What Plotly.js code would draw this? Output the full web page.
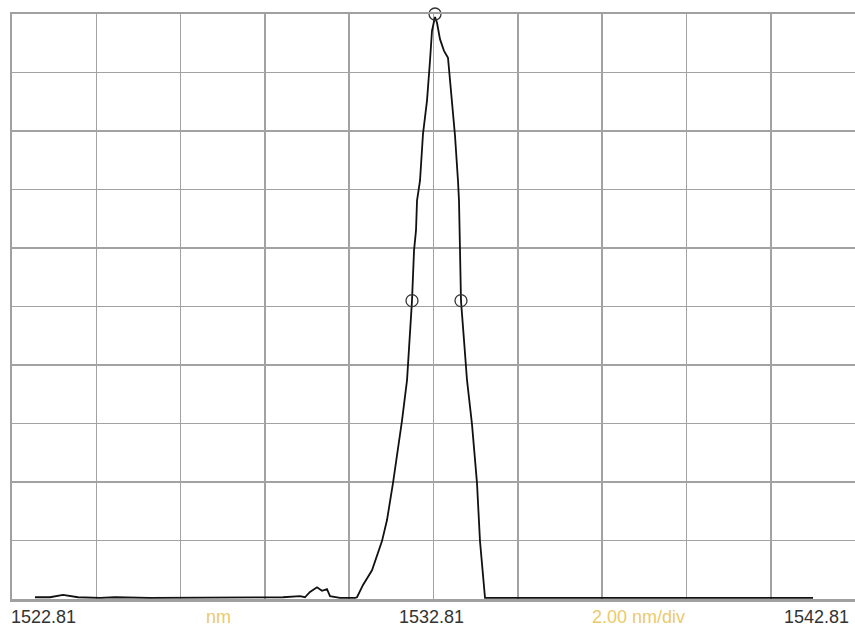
<!DOCTYPE html>
<html>
<head>
<meta charset="utf-8">
<script src="https://cdn.plot.ly/plotly-3.0.1.min.js"></script>
<style>
  html, body { margin: 0; padding: 0; background: #ffffff; }
  #chart { width: 855px; height: 632px; }
</style>
</head>
<body>
<div id="chart"></div>
<script>
// Spectrum trace: wavelength (nm) and linear level (divisions, 0..10)
const wavelength = [
  1523.356, 1523.712, 1524.020, 1524.376, 1524.898, 1525.254, 1526.084, 1527.270,
  1528.575, 1528.931, 1529.239, 1529.643, 1529.761, 1529.880, 1530.046, 1530.165,
  1530.283, 1530.355, 1530.592, 1530.948, 1530.995, 1531.138, 1531.351, 1531.588,
  1531.707, 1531.849, 1532.063, 1532.182, 1532.253, 1532.300, 1532.348, 1532.395,
  1532.419, 1532.490, 1532.561, 1532.656, 1532.727, 1532.774, 1532.846, 1532.893,
  1532.964, 1533.059, 1533.154, 1533.202, 1533.249, 1533.320, 1533.391, 1533.415,
  1533.439, 1533.462, 1533.534, 1533.605, 1533.723, 1533.842, 1533.913, 1533.984,
  1534.032, 1535.574, 1537.947, 1540.319, 1541.814
];
const level = [
  0.03, 0.03, 0.07, 0.03, 0.02, 0.03, 0.02, 0.02,
  0.02, 0.03, 0.03, 0.05, 0.03, 0.12, 0.20, 0.14,
  0.17, 0.05, 0.02, 0.02, 0.03, 0.24, 0.49, 0.99,
  1.35, 1.98, 3.05, 3.74, 4.59, 5.10, 5.96, 6.30,
  6.81, 7.15, 7.95, 8.52, 9.20, 9.71, 9.95, 9.85,
  9.57, 9.37, 9.25, 8.86, 8.52, 7.92, 7.15, 6.81,
  5.96, 5.10, 4.42, 3.74, 2.99, 1.98, 0.99, 0.41,
  0.02, 0.02, 0.02, 0.02, 0.02
];

// Marker circles: peak and half-maximum points
const markWavelength = [1532.846, 1532.300, 1533.462];
const markLevel = [10.0, 5.10, 5.10];

// Axis labels
const startLabel = "1522.81";
const centerLabel = "1532.81";
const stopLabel = "1542.81";
const unitLabel = "nm";
const spanLabel = "2.00 nm/div";
const xStart = 1522.81, xCenter = 1532.81, xStop = 1542.81;

const traces = [
  {
    x: wavelength, y: level, type: 'scatter', mode: 'lines',
    line: { color: '#111111', width: 1.8 },
    hoverinfo: 'skip', showlegend: false
  },
  {
    x: markWavelength, y: markLevel, type: 'scatter', mode: 'markers',
    marker: { symbol: 'circle-open', size: 12, color: '#333333', line: { width: 1.3, color: '#333333' } },
    cliponaxis: false, hoverinfo: 'skip', showlegend: false
  }
];

const labelFont = { family: 'Liberation Sans, Arial, sans-serif', size: 18, color: '#333333' };
const yellowFont = { family: 'Liberation Sans, Arial, sans-serif', size: 18, color: '#ecc96a' };

const layout = {
  width: 855, height: 632,
  margin: { l: 12, r: 0, t: 14, b: 33 },
  paper_bgcolor: '#ffffff', plot_bgcolor: '#ffffff',
  xaxis: {
    range: [xStart, xStop], dtick: 2, tick0: xStart,
    showgrid: true, gridcolor: '#a2a2a2', gridwidth: 1.6,
    showticklabels: false, ticks: '', zeroline: false,
    showline: true, mirror: true, linecolor: '#a0a0a0', linewidth: 2.5
  },
  yaxis: {
    range: [0, 10], dtick: 1, tick0: 0,
    showgrid: true, gridcolor: '#a2a2a2', gridwidth: 1.6,
    showticklabels: false, ticks: '', zeroline: false,
    showline: true, mirror: false, linecolor: '#a0a0a0', linewidth: 2
  },
  annotations: [
    { x: xStart, y: 0, xref: 'x', yref: 'paper', text: startLabel, showarrow: false,
      xanchor: 'left', yanchor: 'top', xshift: -3, yshift: -6, font: labelFont },
    { x: xCenter, y: 0, xref: 'x', yref: 'paper', text: centerLabel, showarrow: false,
      xanchor: 'center', yanchor: 'top', xshift: -2, yshift: -6, font: labelFont },
    { x: xStop, y: 0, xref: 'x', yref: 'paper', text: stopLabel, showarrow: false,
      xanchor: 'right', yanchor: 'top', xshift: -4, yshift: -6, font: labelFont },
    { x: (xStart + xCenter) / 2, y: 0, xref: 'x', yref: 'paper', text: unitLabel, showarrow: false,
      xanchor: 'center', yanchor: 'top', xshift: -4, yshift: -6, font: yellowFont },
    { x: (xCenter + xStop) / 2, y: 0, xref: 'x', yref: 'paper', text: spanLabel, showarrow: false,
      xanchor: 'center', yanchor: 'top', xshift: -6, yshift: -6, font: yellowFont }
  ]
};

Plotly.newPlot('chart', traces, layout, { staticPlot: true, displayModeBar: false });
</script>
</body>
</html>
